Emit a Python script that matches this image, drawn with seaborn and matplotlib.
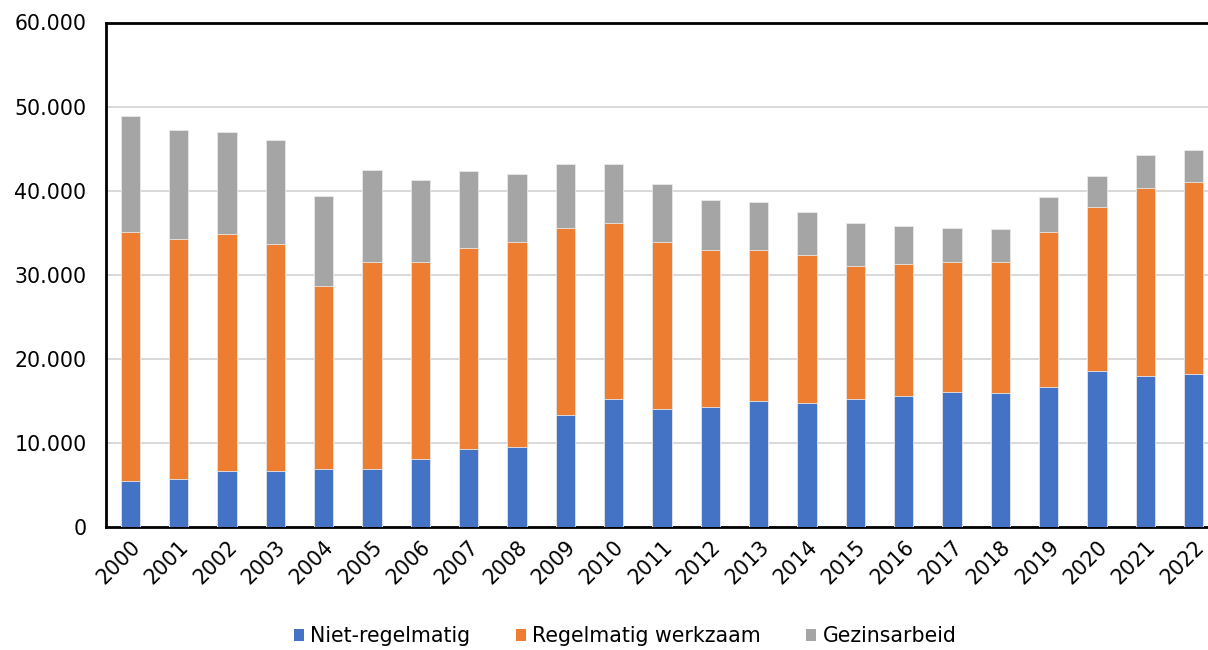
import seaborn as sns
import matplotlib.pyplot as plt
import matplotlib.ticker as mticker
from matplotlib.patches import Patch
import pandas as pd
import numpy as np

# data
years = [str(y) for y in range(2000, 2023)]
niet_regelmatig = [5500, 5700, 6700, 6700, 6900, 6900, 8100, 9250, 9500, 13300,
                   15200, 14000, 14250, 14950, 14700, 15200, 15600, 16100, 15900,
                   16600, 18500, 18000, 18250]
regelmatig_werkzaam = [29600, 28500, 28200, 27000, 21800, 24600, 23400, 23950,
                       24400, 22300, 20900, 19900, 18750, 18050, 17600, 15900,
                       15700, 15400, 15600, 18500, 19500, 22300, 22750]
gezinsarbeid = [13800, 13000, 12100, 12300, 10700, 11000, 9800, 9100, 8100, 7600,
                7100, 6900, 5900, 5700, 5200, 5000, 4500, 4100, 3900, 4100, 3800,
                3900, 3800]

series = ["Niet-regelmatig", "Regelmatig werkzaam", "Gezinsarbeid"]
colors = ["#4472C4", "#ED7D31", "#A5A5A5"]

df = pd.DataFrame({
    "Jaar": years,
    "Niet-regelmatig": niet_regelmatig,
    "Regelmatig werkzaam": regelmatig_werkzaam,
    "Gezinsarbeid": gezinsarbeid,
})
cum = df[series].cumsum(axis=1)

sns.set_style("white")
plt.rcParams["font.family"] = ["DejaVu Sans"]

fig = plt.figure(figsize=(12.08, 6.5), dpi=100)
ax = fig.add_axes([106 / 1208, 123 / 650, 1112 / 1208, 504.5 / 650])

# stacked bars: draw cumulative totals from top layer down
for name, color in zip(series[::-1], colors[::-1]):
    sns.barplot(x=df["Jaar"], y=cum[name], color=color, width=0.4,
                edgecolor="#e8e8e8", linewidth=0.6, saturation=1, ax=ax, zorder=3)

ax.set_ylim(0, 60000)
ax.set_xlim(-0.5, 22.5)
ax.yaxis.set_major_locator(mticker.MultipleLocator(10000))
ax.yaxis.set_major_formatter(
    mticker.FuncFormatter(lambda v, p: f"{int(v):,}".replace(",", ".")))
ax.grid(axis="y", color="#d9d9d9", linewidth=1.4, zorder=0)
ax.set_axisbelow(True)

ax.set_xlabel("")
ax.set_ylabel("")
ax.tick_params(axis="y", length=0, pad=14, labelsize=14.8, labelcolor="black")
ax.tick_params(axis="x", length=0, pad=7, labelsize=14.8, labelcolor="black")
for lab in ax.get_xticklabels():
    lab.set_rotation(45)
    lab.set_ha("right")
    lab.set_rotation_mode("anchor")

for side in ["left", "top", "bottom"]:
    ax.spines[side].set_color("black")
    ax.spines[side].set_linewidth(2)
ax.spines["right"].set_visible(False)

handles = [Patch(facecolor=c, edgecolor="none") for c in colors]
fig.legend(handles, series, loc="center", bbox_to_anchor=(625 / 1208, 14 / 650),
           ncol=3, frameon=False, fontsize=14.8, handlelength=0.5,
           handleheight=0.5, handletextpad=0.3, columnspacing=2.2,
           labelcolor="black")

fig.savefig("out.png", dpi=100)
plt.close(fig)
